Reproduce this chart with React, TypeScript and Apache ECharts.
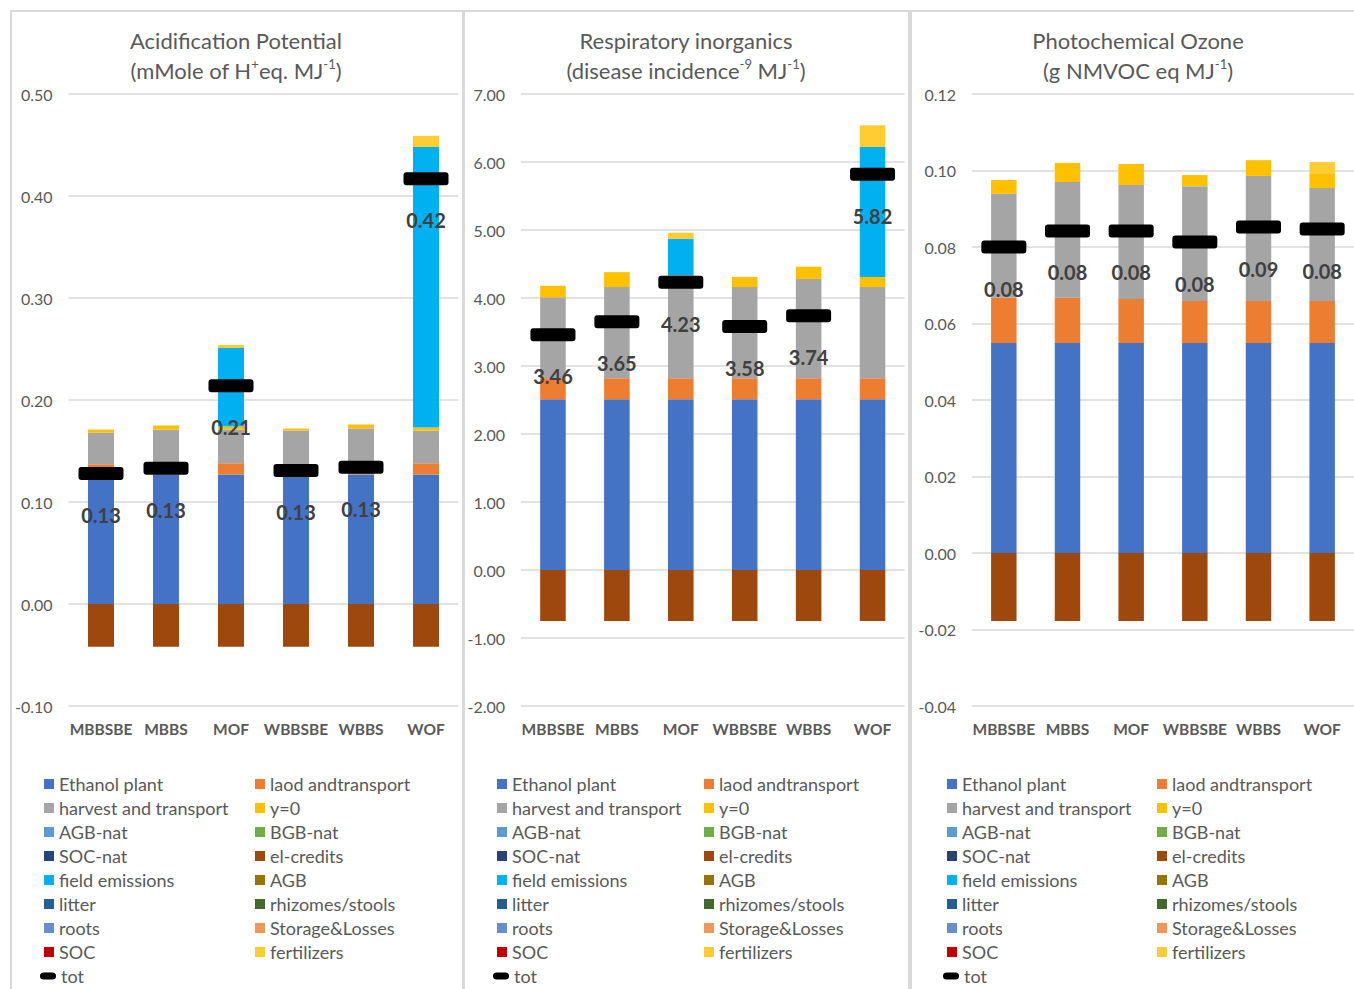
import React, { useEffect, useRef } from "react";
import * as echarts from "echarts";

const categories = ["MBBSBE", "MBBS", "MOF", "WBBSBE", "WBBS", "WOF"];

const seriesNames = [
  "Ethanol plant", "laod andtransport", "harvest and transport", "y=0",
  "AGB-nat", "BGB-nat", "SOC-nat", "el-credits", "field emissions", "AGB",
  "litter", "rhizomes/stools", "roots", "Storage&Losses", "SOC", "fertilizers",
];
const seriesColors = [
  "#4472C4", "#ED7D31", "#A5A5A5", "#FFC000", "#5B9BD5", "#70AD47", "#264478",
  "#9E480E", "#00B0F0", "#997300", "#255E91", "#43682B", "#698ED0", "#F1975A",
  "#C00000", "#FFCD33",
];

const ZERO = [0, 0, 0, 0, 0, 0];

// Acidification Potential
const acidEthanol = [0.127, 0.127, 0.127, 0.127, 0.127, 0.127];
const acidLoad = [0.010, 0.010, 0.011, 0.010, 0.010, 0.011];
const acidHarvest = [0.031, 0.034, 0.033, 0.033, 0.035, 0.032];
const acidY0 = [0.003, 0.004, 0.003, 0.002, 0.004, 0.003];
const acidElCredits = [-0.042, -0.042, -0.042, -0.042, -0.042, -0.042];
const acidField = [0, 0, 0.077, 0, 0, 0.275];
const acidFert = [0, 0, 0.003, 0, 0, 0.011];
const acidTot = [0.128, 0.133, 0.214, 0.131, 0.134, 0.417];

// Respiratory inorganics
const respEthanol = [2.51, 2.51, 2.51, 2.51, 2.51, 2.51];
const respLoad = [0.31, 0.31, 0.31, 0.31, 0.31, 0.31];
const respHarvest = [1.19, 1.34, 1.52, 1.34, 1.46, 1.34];
const respY0 = [0.17, 0.22, 0, 0.15, 0.18, 0.15];
const respElCredits = [-0.75, -0.75, -0.75, -0.75, -0.75, -0.75];
const respField = [0, 0, 0.53, 0, 0, 1.91];
const respFert = [0, 0, 0.09, 0, 0, 0.32];
const respTot = [3.46, 3.65, 4.23, 3.58, 3.74, 5.82];

// Photochemical Ozone
const photoEthanol = [0.0549, 0.0549, 0.0549, 0.0549, 0.0549, 0.0549];
const photoLoad = [0.0118, 0.0118, 0.0115, 0.011, 0.011, 0.011];
const photoHarvest = [0.0272, 0.0303, 0.0298, 0.03, 0.0327, 0.0295];
const photoY0 = [0.0036, 0.005, 0.0055, 0.0029, 0.0041, 0.0039];
const photoElCredits = [-0.0178, -0.0178, -0.0178, -0.0178, -0.0178, -0.0178];
const photoField = [0, 0, 0, 0, 0, 0];
const photoFert = [0, 0, 0, 0, 0, 0.0029];
const photoTot = [0.08, 0.0842, 0.0842, 0.0813, 0.0852, 0.0847];

const panels = [
  {
    t1: "Acidification Potential", t2: "{n|(mMole of H}{s|+}{n|eq. MJ}{s|-1}{n|)}",
    min: -0.1, max: 0.5, interval: 0.1,
    data: [acidEthanol, acidLoad, acidHarvest, acidY0, ZERO, ZERO, ZERO, acidElCredits,
      acidField, ZERO, ZERO, ZERO, ZERO, ZERO, ZERO, acidFert],
    tot: acidTot,
  },
  {
    t1: "Respiratory inorganics", t2: "{n|(disease incidence}{s|-9}{n| MJ}{s|-1}{n|)}",
    min: -2, max: 7, interval: 1,
    data: [respEthanol, respLoad, respHarvest, respY0, ZERO, ZERO, ZERO, respElCredits,
      respField, ZERO, ZERO, ZERO, ZERO, ZERO, ZERO, respFert],
    tot: respTot,
  },
  {
    t1: "Photochemical Ozone", t2: "{n|(g NMVOC eq MJ}{s|-1}{n|)}",
    min: -0.04, max: 0.12, interval: 0.02,
    data: [photoEthanol, photoLoad, photoHarvest, photoY0, ZERO, ZERO, ZERO, photoElCredits,
      photoField, ZERO, ZERO, ZERO, ZERO, ZERO, ZERO, photoFert],
    tot: photoTot,
  },
];

// layout
const gridLeft = [68.5, 521, 972];
const gridWidth = [390, 383.5, 386];
const panelBox = [
  { x: 11, w: 452 },
  { x: 464, w: 445 },
  { x: 911, w: 460 },
];
const titleCenter = [236, 686, 1138];
const legendLeftCol = [44, 497, 947];
const legendRightCol = [255, 704, 1157];

const FONT = "Lato";
const PILL = "path://M3,0 H42 Q45,0 45,3 V10 Q45,13 42,13 H3 Q0,13 0,10 V3 Q0,0 3,0 Z";
const PILL_ICON = "path://M3.5,0 H12.5 Q16,0 16,3.5 Q16,7 12.5,7 H3.5 Q0,7 0,3.5 Q0,0 3.5,0 Z";

export default function App() {
  const ref = useRef<HTMLDivElement>(null);
  useEffect(() => {
    if (!ref.current) return;
    const chart = echarts.init(ref.current, null, { renderer: "svg" });

    const grids: any[] = [];
    const xAxes: any[] = [];
    const yAxes: any[] = [];
    const series: any[] = [];
    const legends: any[] = [];
    const graphics: any[] = [];

    const leftNames = seriesNames.filter((_, i) => i % 2 === 0);
    const rightNames = seriesNames.filter((_, i) => i % 2 === 1);

    panels.forEach((p, pi) => {
      grids.push({ left: gridLeft[pi], width: gridWidth[pi], top: 94, height: 612 });
      xAxes.push({
        type: "category", gridIndex: pi, data: categories,
        axisLine: { show: false, onZero: false }, axisTick: { show: false },
        axisLabel: { interval: 0, fontFamily: FONT, fontSize: 15.5, fontWeight: "bold", color: "#595959", margin: 15 },
      });
      yAxes.push({
        type: "value", gridIndex: pi, min: p.min, max: p.max, interval: p.interval,
        axisLine: { show: false }, axisTick: { show: false },
        splitLine: { lineStyle: { color: "#D9D9D9", width: 1.5 } },
        axisLabel: {
          fontFamily: FONT, fontSize: 16, color: "#595959", margin: 16,
          formatter: (v: number) => v.toFixed(2),
        },
      });
      seriesNames.forEach((name, si) => {
        series.push({
          type: "bar", name, xAxisIndex: pi, yAxisIndex: pi, stack: "s" + pi,
          barWidth: "40%", data: p.data[si],
          itemStyle: { color: seriesColors[si] },
        });
      });
      series.push({
        type: "scatter", name: "tot", xAxisIndex: pi, yAxisIndex: pi, z: 5,
        symbol: PILL, symbolSize: [45, 13], data: p.tot,
        itemStyle: { color: "#000000", opacity: 1 },
        label: {
          show: true, position: "bottom", distance: 25,
          fontFamily: FONT, fontSize: 20, fontWeight: "bold", color: "#404040",
          formatter: (d: any) => Number(d.value).toFixed(2),
        },
      });
      const legendBase = {
        orient: "vertical", padding: 0, itemWidth: 10, itemHeight: 10, itemGap: 6,
        icon: "rect",
        textStyle: { fontFamily: FONT, fontSize: 18, color: "#595959", lineHeight: 18 },
      };
      legends.push({ ...legendBase, left: legendLeftCol[pi], top: 775, data: leftNames });
      legends.push({ ...legendBase, left: legendRightCol[pi], top: 775, data: rightNames });
      legends.push({
        ...legendBase, left: legendLeftCol[pi] - 4, top: 967, itemWidth: 16, itemHeight: 7,
        icon: PILL_ICON, data: ["tot"],
        textStyle: { ...legendBase.textStyle },
      });
      graphics.push({
        type: "rect", shape: { x: panelBox[pi].x, y: 11, width: panelBox[pi].w, height: 990 },
        style: { fill: "none", stroke: "#D9D9D9", lineWidth: 2 }, silent: true,
      });
      graphics.push({
        type: "text", x: titleCenter[pi], y: 40,
        style: { text: p.t1, fontFamily: FONT, fontSize: 22, fill: "#595959", textAlign: "center", textVerticalAlign: "middle" },
      });
      graphics.push({
        type: "text", x: titleCenter[pi], y: 68,
        style: {
          text: p.t2, fontFamily: FONT, fontSize: 22, fill: "#595959",
          textAlign: "center", textVerticalAlign: "middle",
          rich: {
            n: { fontFamily: FONT, fontSize: 22, fill: "#595959", lineHeight: 26, verticalAlign: "bottom" },
            s: { fontFamily: FONT, fontSize: 13, fill: "#595959", lineHeight: 26, verticalAlign: "top", padding: [2, 0, 0, 0] },
          },
        },
      });
    });

    chart.setOption({
      animation: false,
      backgroundColor: "#ffffff",
      textStyle: { fontFamily: FONT },
      grid: grids, xAxis: xAxes, yAxis: yAxes, series, legend: legends, graphic: graphics,
    });
    return () => chart.dispose();
  }, []);
  return <div ref={ref} style={{ position: "absolute", left: 0, top: 0, width: 1354, height: 989 }} />;
}
